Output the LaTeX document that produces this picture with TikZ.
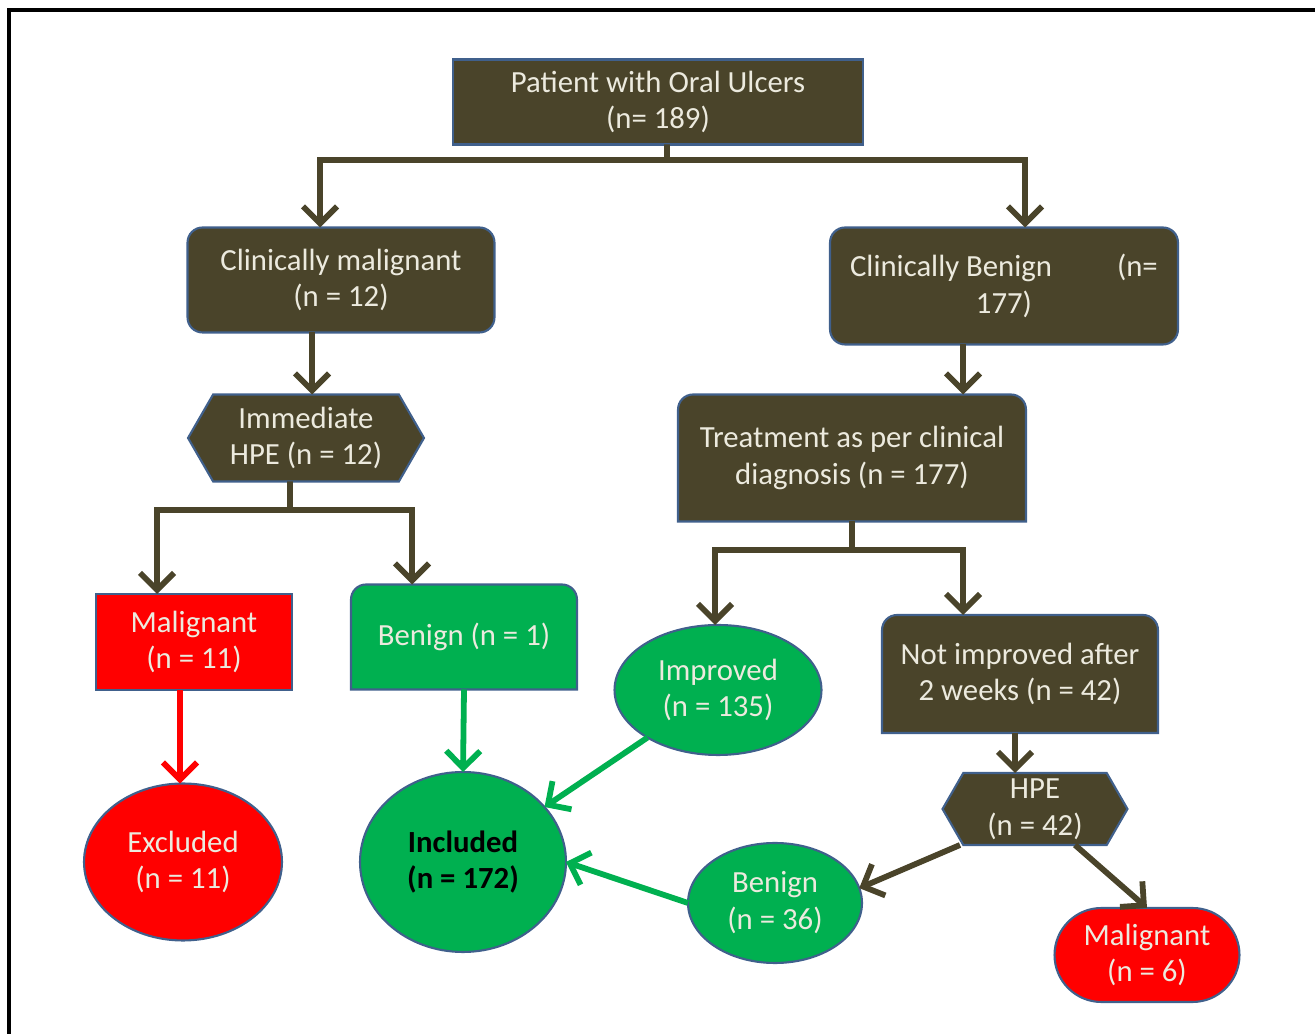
\documentclass[tikz,border=0pt]{standalone}
\usepackage{fontspec}
\setmainfont{Carlito}
\usetikzlibrary{arrows.meta,shapes.geometric,shapes.symbols,shapes.misc,backgrounds}

\definecolor{dkbrown}{RGB}{74,68,42}
\definecolor{edgeblue}{RGB}{64,96,140}
\definecolor{txtwhite}{RGB}{236,234,222}
\definecolor{flowgreen}{RGB}{0,176,80}
\definecolor{flowred}{RGB}{255,0,0}

\begin{document}
\begin{tikzpicture}[x=0.02cm, y=0.02cm, inner sep=0, outer sep=0,
  font=\fontsize{17.5}{21}\selectfont,
  darkbox/.style={rectangle, draw=edgeblue, line width=1.2pt, fill=dkbrown, text=txtwhite, align=center},
  tabbox/.style={rectangle, text=txtwhite, align=center},
  hexbox/.style={signal, signal to=east and west, signal pointer angle=120, draw=edgeblue, line width=1.2pt, fill=dkbrown, text=txtwhite, align=center},
  oval/.style={ellipse, draw=edgeblue, line width=1.2pt, text=txtwhite, align=center},
  flow/.style={line width=3.3pt, draw=dkbrown, -{Straight Barb[length=3.4mm,width=6.8mm]}}]
  \useasboundingbox (0,0) rectangle (1315,1034);
  \draw[line width=2.2pt] (9,0) -- (9,1024) -- (1315,1024);

  % first level
  \node[darkbox, minimum width=8.2cm, minimum height=1.7cm] (top) at (658,932) {Patient with Oral Ulcers\\(n= 189)};
  \node[darkbox, rounded corners=0.3cm, minimum width=6.14cm, minimum height=2.1cm] (cm) at (341,754) {Clinically malignant\\(n = 12)};
  \node[darkbox, rounded corners=0.3cm, minimum width=6.96cm, minimum height=2.34cm] (cb) at (1004,748) {Clinically Benign\hspace{1.3cm}(n=\\177)};

  % left branch
  \node[hexbox, minimum width=4.72cm, minimum height=1.74cm] (ihpe) at (306,596) {Immediate\\HPE (n = 12)};
  \node[darkbox, fill=flowred, minimum width=3.92cm, minimum height=1.92cm] (mal) at (194,392) {Malignant\\(n = 11)};
  \node[tabbox, minimum width=4.52cm, minimum height=2.1cm] (ben1) at (464,397) {Benign (n = 1)};
  \node[oval, fill=flowred, minimum width=3.96cm, minimum height=3.14cm] (exc) at (183,172) {Excluded\\(n = 11)};
  \node[oval, fill=flowgreen, text=black, font=\fontsize{17.5}{21}\selectfont\bfseries, minimum width=4.12cm, minimum height=3.6cm] (inc) at (463,172) {Included\\(n = 172)};

  % right branch
  \node[tabbox, minimum width=6.96cm, minimum height=2.54cm] (trt) at (852,576) {Treatment as per clinical\\diagnosis (n = 177)};
  \node[oval, fill=flowgreen, minimum width=4.14cm, minimum height=2.6cm] (imp) at (718,344) {Improved\\(n = 135)};
  \node[tabbox, minimum width=5.52cm, minimum height=2.36cm] (nimp) at (1020,360) {Not improved after\\2 weeks (n = 42)};
  \node[hexbox, minimum width=3.7cm, minimum height=1.44cm] (hpe) at (1035,225) {HPE\\(n = 42)};
  \node[oval, fill=flowgreen, minimum width=3.48cm, minimum height=2.4cm] (ben36) at (775,131) {Benign\\(n = 36)};
  \node[rounded rectangle, draw=edgeblue, line width=1.2pt, fill=flowred, text=txtwhite, align=center, minimum width=3.7cm, minimum height=1.88cm] (mal6) at (1147,79) {Malignant\\(n = 6)};

  % boxes with rounded top corners
  \begin{pgfonlayer}{background}
    \foreach \n/\c in {trt/dkbrown, nimp/dkbrown, ben1/flowgreen}
      \draw[draw=edgeblue, line width=1.2pt, fill=\c] (\n.south west) -- ([yshift=-0.3cm]\n.north west)
        arc[start angle=180, end angle=90, radius=0.3cm] -- ([xshift=-0.3cm]\n.north east)
        arc[start angle=90, end angle=0, radius=0.3cm] -- (\n.south east) -- cycle;
  \end{pgfonlayer}

  % junctions
  \coordinate (j1) at (667,874);
  \coordinate (j2) at (290,524);
  \coordinate (j3) at (852,484);

  \draw[flow, -] ([xshift=0.18cm]top.south) -- (j1);
  \draw[flow] (j1) -| ([xshift=-0.42cm]cm.north);
  \draw[flow] (j1) -| ([xshift=0.42cm]cb.north);
  \draw[flow] ([xshift=-0.58cm]cm.south) -- ([xshift=-0.58cm]cm.south |- ihpe.north);
  \draw[flow, -] ([xshift=-0.32cm]ihpe.south) -- (j2);
  \draw[flow] (j2) -| ([xshift=-0.74cm]mal.north);
  \draw[flow] (j2) -| ([xshift=-1.04cm]ben1.north);
  \draw[flow] ([xshift=-0.82cm]cb.south) -- ([xshift=-0.82cm]cb.south |- trt.north);
  \draw[flow, -] (trt.south) -- (j3);
  \draw[flow] (j3) -| ([xshift=-0.06cm]imp.north);
  \draw[flow] (j3) -| ([xshift=-1.14cm]nimp.north);
  \draw[flow] ([xshift=-0.1cm]nimp.south) -- ([xshift=-0.1cm]nimp.south |- hpe.north);
  \draw[flow] ([xshift=-1.5cm]hpe.south) -- (ben36.10);
  \draw[flow] ([xshift=0.8cm]hpe.south) -- (mal6.north);

  % red and green arrows
  \draw[flow, draw=flowred] ([xshift=-0.28cm]mal.south) -- ([xshift=-0.28cm]mal.south |- exc.north);
  \draw[flow, draw=flowgreen] (ben1.south) -- (inc.north);
  \draw[flow, draw=flowgreen] (imp) -- (inc);
  \draw[flow, draw=flowgreen] (ben36.west) -- (inc.east);
\end{tikzpicture}
\end{document}
